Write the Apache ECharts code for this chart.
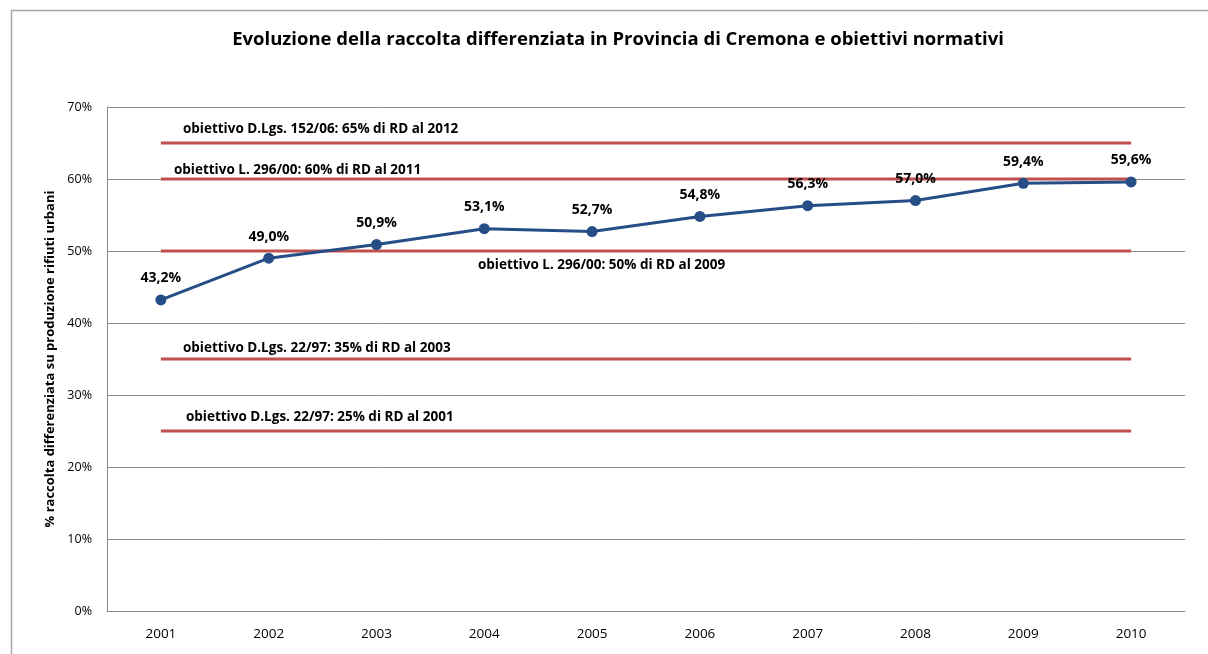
<!DOCTYPE html>
<html>
<head>
<meta charset="utf-8">
<script src="https://cdn.jsdelivr.net/npm/echarts@6/dist/echarts.min.js"></script>
<style>
  html, body { margin: 0; padding: 0; background: #fff; }
  #chart { width: 1208px; height: 654px; }
</style>
</head>
<body>
<div id="chart"></div>
<script>
// Anni e percentuale di raccolta differenziata
const years = ['2001', '2002', '2003', '2004', '2005', '2006', '2007', '2008', '2009', '2010'];
const rdPercent = [43.2, 49.0, 50.9, 53.1, 52.7, 54.8, 56.3, 57.0, 59.4, 59.6];

// Obiettivi normativi (valore e testo)
const targetValues = [65, 60, 50, 35, 25];
const targetLabels = [
  'obiettivo D.Lgs. 152/06: 65% di RD al 2012',
  'obiettivo L. 296/00: 60% di RD al 2011',
  'obiettivo L. 296/00: 50% di RD al 2009',
  'obiettivo D.Lgs. 22/97: 35% di RD al 2003',
  'obiettivo D.Lgs. 22/97: 25% di RD al 2001'
];
// where each caption sits relative to the start of its line: [dx, dy]
const targetLabelOffsets = [[22, -14], [13, -9], [317, 14], [22, -11], [25, -14]];

const yTicks = [0, 10, 20, 30, 40, 50, 60, 70];

const FONT = '"Open Sans", Lato, sans-serif';
const RED = '#C0504D';
const BLUE = '#254E87';

const chart = echarts.init(document.getElementById('chart'));

const targetSeries = targetValues.map((v, i) => ({
  name: targetLabels[i],
  type: 'line',
  data: years.map(() => v),
  symbol: 'none',
  lineStyle: { color: RED, width: 3 },
  silent: true,
  z: 2
}));

const frame = {
  type: 'rect',
  shape: { x: 11.5, y: 10.5, width: 1300, height: 700 },
  style: { fill: 'none', stroke: '#a6a6a6', lineWidth: 1.5 },
  silent: true
};

chart.setOption({
  animation: false,
  title: {
    text: 'Evoluzione della raccolta differenziata in Provincia di Cremona e obiettivi normativi',
    left: 613,
    textAlign: 'center',
    top: 25,
    textStyle: { fontFamily: FONT, fontSize: 18.5, fontWeight: 'bold', color: '#000' }
  },
  grid: { left: 107, right: 23, top: 107, bottom: 43, containLabel: false },
  xAxis: {
    type: 'category',
    data: years,
    boundaryGap: true,
    axisLine: { lineStyle: { color: '#8c8c8c', width: 1 } },
    axisTick: { show: false },
    axisLabel: { fontFamily: FONT, fontSize: 13.5, color: '#000', margin: 16 }
  },
  yAxis: {
    type: 'value',
    min: yTicks[0],
    max: yTicks[yTicks.length - 1],
    interval: 10,
    name: '% raccolta differenziata su produzione rifiuti urbani',
    nameLocation: 'middle',
    nameGap: 50,
    nameTextStyle: { fontFamily: FONT, fontSize: 13, fontWeight: 'bold', color: '#000' },
    axisLine: { show: true, lineStyle: { color: '#8c8c8c', width: 1 } },
    axisTick: { show: false },
    splitLine: { lineStyle: { color: '#8c8c8c', width: 1 } },
    axisLabel: {
      fontFamily: FONT, fontSize: 12.5, color: '#000', margin: 15,
      formatter: v => v + '%'
    }
  },
  graphic: [frame],
  series: targetSeries.concat([{
    name: 'RD',
    type: 'line',
    data: rdPercent,
    symbol: 'circle',
    symbolSize: 11,
    itemStyle: { color: BLUE },
    lineStyle: { color: BLUE, width: 3 },
    z: 5,
    label: {
      show: true,
      position: 'top',
      distance: 9,
      fontFamily: FONT,
      fontSize: 14,
      fontWeight: 'bold',
      color: '#000',
      formatter: p => p.value.toFixed(1).replace('.', ',') + '%'
    }
  }])
});

// Captions of the target lines, anchored to the first point of each line
const captions = targetValues.map((v, i) => {
  const p = chart.convertToPixel({ xAxisIndex: 0, yAxisIndex: 0 }, [0, v]);
  return {
    type: 'text',
    x: p[0] + targetLabelOffsets[i][0],
    y: p[1] + targetLabelOffsets[i][1],
    silent: true,
    z: 10,
    style: {
      text: targetLabels[i],
      fontFamily: FONT,
      fontSize: 13.5,
      fontWeight: 'bold',
      fill: '#000',
      verticalAlign: 'middle',
      align: 'left'
    }
  };
});
chart.setOption({ graphic: [frame].concat(captions) });
</script>
</body>
</html>
